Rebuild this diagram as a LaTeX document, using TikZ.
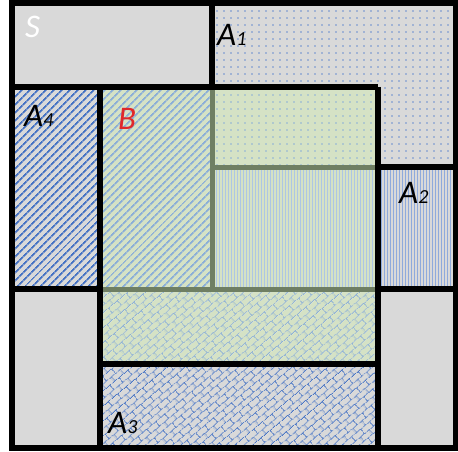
\documentclass[tikz,border=0pt]{standalone}
\usepackage{fontspec}
\newfontfamily\labfont{Carlito}
\usetikzlibrary{patterns.meta}
\definecolor{sgray}{HTML}{D9D9D9}
\definecolor{bgreen}{HTML}{D5E2C5}
\definecolor{pblue}{HTML}{4472C4}
\definecolor{lblue}{HTML}{8AAED8}
\definecolor{olivel}{HTML}{6F7F63}
\definecolor{lred}{HTML}{E0282A}
\tikzdeclarepattern{
  name=DiagBricks,
  type=uncolored,
  bounding box={(0pt,0pt) and (12pt,12pt)},
  tile size={(12pt,12pt)},
  tile transformation={rotate=40},
  code={
    \draw[line width=0.9pt] (0pt,3pt) -- (12pt,3pt) (0pt,9pt) -- (12pt,9pt)
      (3pt,3pt) -- (3pt,9pt)
      (9pt,9pt) -- (9pt,12pt) (9pt,0pt) -- (9pt,3pt);
  }
}
\tikzset{
  blk/.style={line width=6pt, draw=black},
  olv/.style={line width=5pt, draw=olivel},
  lab/.style={anchor=base west, inner sep=0pt, font=\labfont\itshape\fontsize{33}{33}\selectfont},
  dotsA/.style={preaction={fill=#1}, pattern={Dots[distance=7pt,radius=0.9pt]}},
  stripesA/.style={preaction={fill=#1}, pattern={Lines[angle=45,distance=5.4pt,line width=2pt]}},
  vlinesA/.style={preaction={fill=#1}, pattern={Lines[angle=90,distance=3pt,line width=1pt]}},
  bricksA/.style={preaction={fill=#1}, pattern=DiagBricks},
}
\newcommand{\sub}[1]{{\fontsize{20}{20}\selectfont #1}}
\begin{document}
\begin{tikzpicture}[x=1pt,y=-1pt]
\useasboundingbox (0,0) rectangle (458,452);
% grid coordinates
\def\xL{12}\def\xa{100}\def\xb{212}\def\xc{378}\def\xR{456}
\def\yT{3}\def\ya{87}\def\yb{167}\def\yc{289}\def\yd{364}\def\yB{448}
% background S
\fill[sgray] (\xL,\yT) rectangle (\xR,\yB);
% A1
\path[dotsA=sgray, pattern color=pblue!80] (\xb,\yT) -- (\xR,\yT) -- (\xR,\yb) -- (\xc,\yb) -- (\xc,\ya) -- (\xb,\ya) -- cycle;
\path[dotsA=bgreen, pattern color=lblue] (\xb,\ya) rectangle (\xc,\yb);
% A2
\path[vlinesA=sgray, pattern color=pblue!60] (\xc,\yb) rectangle (\xR,\yc);
\path[vlinesA=bgreen, pattern color=lblue!70] (\xb,\yb) rectangle (\xc,\yc);
% A4
\path[stripesA=sgray, pattern color=pblue] (\xL,\ya) rectangle (\xa,\yc);
\path[stripesA=bgreen, pattern color=lblue] (\xa,\ya) rectangle (\xb,\yc);
% A3
\path[bricksA=bgreen, pattern color=lblue] (\xa,\yc) rectangle (\xc,\yd);
\path[bricksA=sgray, pattern color=pblue] (\xa,\yd) rectangle (\xc,\yB);
% olive lines inside B
\draw[olv] (\xb,\ya) -- (\xb,\yc);
\draw[olv] (\xb,\yb) -- (\xc,\yb);
\draw[olv] (\xa,\yc) -- (\xc,\yc);
% black lines
\draw[blk] (\xL,\yT) rectangle (\xR,\yB);
\draw[blk] (\xL,\ya) -- (\xc,\ya);
\draw[blk] (\xb,\yT) -- (\xb,\ya);
\draw[blk] (\xc,\ya) -- (\xc,\yB);
\draw[blk] (\xc,\yb) -- (\xR,\yb);
\draw[blk] (\xc,\yc) -- (\xR,\yc);
\draw[blk] (\xa,\ya) -- (\xa,\yB);
\draw[blk] (\xL,\yc) -- (\xa,\yc);
\draw[blk] (\xa,\yd) -- (\xc,\yd);
% labels
\node[lab, text=white] (S) at (25,38) {S};
\node[lab] (A1) at (217,46) {A\sub{1}};
\node[lab] (A4) at (24,126) {A\sub{4}};
\node[lab, text=lred] (B) at (118,129) {B};
\node[lab] (A2) at (399,203) {A\sub{2}};
\node[lab] (A3) at (108,433) {A\sub{3}};
\end{tikzpicture}
\end{document}
